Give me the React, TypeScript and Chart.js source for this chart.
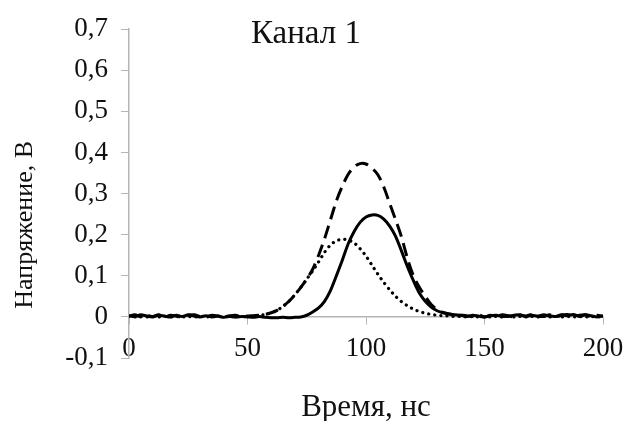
import React, { useEffect, useRef } from "react";
import { Chart, registerables } from "chart.js";

Chart.register(...registerables);

const times = [
  0, 2.5, 5, 7.5, 10, 12.5, 15, 17.5, 20, 22.5, 25, 27.5, 30, 32.5, 35, 37.5, 40, 42.5, 45, 47.5,
  50, 52.5, 55, 57.5, 60, 62.5, 65, 67.5, 70, 72.5, 75, 77.5, 80, 82.5, 85, 87.5, 90, 92.5, 95, 97.5,
  100, 102.5, 105, 107.5, 110, 112.5, 115, 117.5, 120, 122.5, 125, 127.5, 130, 132.5, 135, 137.5, 140, 142.5, 145, 147.5,
  150, 152.5, 155, 157.5, 160, 162.5, 165, 167.5, 170, 172.5, 175, 177.5, 180, 182.5, 185, 187.5, 190, 192.5, 195, 197.5,
  200,
];

const solidValues = [
  0.003, 0.001, 0.005, 0.002, 0.0, 0.004, 0.002, 0.0, 0.004, 0.001, 0.005, 0.002, 0.0, 0.003, 0.0, 0.002, -0.001, 0.001, -0.001, 0.001,
  0.0, -0.001, 0.001, -0.001, -0.002, -0.002, -0.001, -0.002, -0.001, 0.0, 0.004, 0.012, 0.022, 0.038, 0.064, 0.1, 0.138, 0.178, 0.208, 0.23,
  0.243, 0.248, 0.247, 0.238, 0.221, 0.196, 0.16, 0.122, 0.088, 0.058, 0.038, 0.024, 0.015, 0.01, 0.007, 0.005, 0.004, 0.001, 0.004, 0.002,
  0.0, 0.003, 0.004, 0.001, 0.002, 0.004, 0.005, 0.001, 0.004, 0.002, 0.005, 0.002, 0.001, 0.005, 0.003, 0.006, 0.001, 0.005, 0.003, 0.0,
  0.003,
];

const dashedValues = [
  0.002, 0.005, 0.0, 0.004, 0.001, 0.005, 0.0, 0.004, 0.002, 0.0, 0.004, 0.005, 0.001, 0.0, 0.004, 0.002, 0.0, 0.003, 0.004, 0.0,
  0.002, 0.003, 0.004, 0.006, 0.01, 0.016, 0.026, 0.038, 0.054, 0.072, 0.092, 0.116, 0.15, 0.19, 0.236, 0.282, 0.318, 0.347, 0.365, 0.373,
  0.372, 0.362, 0.346, 0.316, 0.276, 0.236, 0.194, 0.142, 0.1, 0.072, 0.05, 0.03, 0.018, 0.011, 0.007, 0.005, 0.004, 0.003, 0.001, 0.005,
  0.0, 0.004, 0.001, 0.005, 0.003, 0.0, 0.004, 0.002, 0.006, 0.002, 0.001, 0.005, 0.0, 0.004, 0.006, 0.001, 0.004, 0.005, 0.001, 0.004,
  0.001,
];

const dottedValues = [
  0.001, 0.0, 0.001, 0.0, 0.001, 0.0, 0.001, 0.0, 0.001, 0.0, 0.001, 0.0, 0.001, 0.0, 0.001, 0.0, 0.001, 0.0, 0.001, 0.0,
  0.001, 0.002, 0.004, 0.006, 0.01, 0.016, 0.026, 0.038, 0.054, 0.072, 0.092, 0.112, 0.134, 0.157, 0.175, 0.185, 0.189, 0.187, 0.18, 0.166,
  0.148, 0.126, 0.104, 0.084, 0.066, 0.05, 0.037, 0.027, 0.019, 0.013, 0.009, 0.006, 0.004, 0.003, 0.002, 0.001, 0.001, 0.0, 0.001, 0.0,
  0.001, 0.0, 0.001, 0.0, 0.001, 0.0, 0.001, 0.0, 0.001, 0.0, 0.001, 0.0, 0.001, 0.0, 0.001, 0.0, 0.001, 0.0, 0.001, 0.0,
  0.001,
];

const xTickStep = 50;
const yTickStep = 0.1;
const chartTitle = "Канал 1";
const xTitle = "Время, нс";
const yTitle = "Напряжение, В";

const FONT = "'Liberation Serif', 'Times New Roman', serif";

function toPoints(vals: number[]) {
  return vals.map((v, i) => ({ x: times[i], y: v }));
}

const titlesPlugin = {
  id: "titlesPlugin",
  afterDraw(chart: any) {
    const { ctx, chartArea } = chart;
    ctx.save();
    ctx.fillStyle = "#111";
    ctx.textAlign = "center";
    ctx.textBaseline = "middle";
    // chart title (overlaid)
    ctx.font = `33px ${FONT}`;
    ctx.fillText(chartTitle, chart.width / 2 - 7, chartArea.top + 5);
    // x title
    ctx.font = `31px ${FONT}`;
    ctx.fillText(xTitle, (chartArea.left + chartArea.right) / 2, chartArea.bottom + 50);
    // y title
    ctx.font = `26px ${FONT}`;
    ctx.translate(25, chartArea.top + (chartArea.bottom - chartArea.top) * 0.595);
    ctx.rotate(-Math.PI / 2);
    ctx.fillText(yTitle, 0, 0);
    ctx.restore();
  },
};

export default function App() {
  const ref = useRef<HTMLCanvasElement | null>(null);
  useEffect(() => {
    if (!ref.current) return;
    const axisColor = "#b5b5b5";
    const chart = new Chart(ref.current, {
      type: "line",
      data: {
        datasets: [
          {
            label: "dotted",
            data: toPoints(dottedValues),
            borderColor: "#000",
            borderWidth: 3.2,
            borderDash: [0.1, 6],
            borderCapStyle: "round",
            pointRadius: 0,
            tension: 0.3,
          },
          {
            label: "dashed",
            data: toPoints(dashedValues),
            borderColor: "#000",
            borderWidth: 3,
            borderDash: [13, 7],
            pointRadius: 0,
            tension: 0.3,
          },
          {
            label: "solid",
            data: toPoints(solidValues),
            borderColor: "#000",
            borderWidth: 3,
            pointRadius: 0,
            tension: 0.3,
          },
        ],
      },
      options: {
        animation: false,
        responsive: false,
        devicePixelRatio: 1,
        layout: { padding: { left: 0, right: 23, top: 26, bottom: 63 } },
        plugins: {
          legend: { display: false },
          tooltip: { enabled: false },
          title: { display: false },
        },
        scales: {
          x: {
            type: "linear",
            min: 0,
            max: 200,
            position: { y: 0 } as any,
            afterFit: (scale: any) => {
              scale.paddingLeft = 0;
              scale.paddingRight = 0;
            },
            ticks: {
              stepSize: xTickStep,
              autoSkip: false,
              maxRotation: 0,
              padding: 9,
              color: "#111",
              font: { family: FONT, size: 27 },
            },
            grid: { drawOnChartArea: false, drawTicks: true, tickLength: 7, color: axisColor },
            border: { display: true, color: axisColor, width: 1.5 },
          },
          y: {
            type: "linear",
            min: -0.1,
            max: 0.7,
            afterFit: (scale: any) => {
              scale.width = 129;
            },
            ticks: {
              stepSize: yTickStep,
              padding: 13,
              color: "#111",
              font: { family: FONT, size: 27 },
              callback: (v: any) => {
                const r = Math.round(Number(v) * 10) / 10;
                return r === 0 ? "0" : r.toFixed(1).replace(".", ",");
              },
            },
            grid: { drawOnChartArea: false, drawTicks: true, tickLength: 8, color: axisColor },
            border: { display: true, color: axisColor, width: 1.5 },
          },
        },
      },
      plugins: [titlesPlugin],
    });
    return () => chart.destroy();
  }, []);
  return (
    <div style={{ position: "absolute", left: 0, top: 0, width: 626, height: 421, background: "#fff" }}>
      <canvas ref={ref} width={626} height={421} />
    </div>
  );
}
